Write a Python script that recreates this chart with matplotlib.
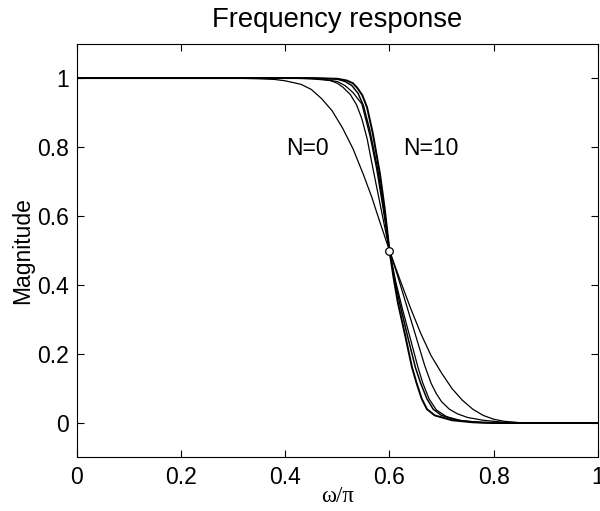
import matplotlib
matplotlib.use("Agg")
import matplotlib.pyplot as plt

# magnitude curves (w = omega/pi)
w_n0 = [0, 0.3, 0.35, 0.38, 0.4, 0.43, 0.45, 0.47, 0.49, 0.51, 0.53, 0.55, 0.566, 0.58, 0.6,
        0.62, 0.64, 0.66, 0.68, 0.7, 0.72, 0.74, 0.76, 0.78, 0.8, 0.82, 0.85, 0.9, 1.0]
m_n0 = [1, 1, 0.998, 0.996, 0.992, 0.982, 0.967, 0.94, 0.905, 0.855, 0.795, 0.72, 0.655,
        0.59, 0.5, 0.416, 0.335, 0.26, 0.195, 0.145, 0.1, 0.066, 0.04, 0.022, 0.011, 0.005,
        0.001, 0, 0]

w_b = [0, 0.4, 0.45, 0.486, 0.5, 0.511, 0.525, 0.537, 0.547, 0.557, 0.568, 0.58, 0.59, 0.6,
       0.615, 0.63, 0.649, 0.668, 0.68, 0.69, 0.7, 0.715, 0.73, 0.75, 0.78, 0.82, 0.87, 1.0]
m_b = [1, 1, 0.998, 0.993, 0.985, 0.973, 0.952, 0.922, 0.882, 0.825, 0.74, 0.65, 0.575, 0.5,
       0.43, 0.355, 0.26, 0.165, 0.115, 0.085, 0.062, 0.04, 0.027, 0.016, 0.008, 0.002, 0, 0]

w_c = [0, 0.42, 0.47, 0.5, 0.515, 0.53, 0.547, 0.563, 0.575, 0.588, 0.6, 0.612, 0.625, 0.64,
       0.655, 0.664, 0.676, 0.69, 0.71, 0.74, 0.78, 0.83, 1.0]
m_c = [1, 1, 0.997, 0.99, 0.978, 0.958, 0.925, 0.83, 0.74, 0.62, 0.5, 0.41, 0.33, 0.245,
       0.16, 0.116, 0.07, 0.038, 0.018, 0.006, 0.001, 0, 0]

w_d = [0, 0.45, 0.5, 0.515, 0.528, 0.54, 0.55, 0.562, 0.578, 0.59, 0.6, 0.61, 0.62, 0.635,
       0.65, 0.66, 0.672, 0.684, 0.7, 0.73, 0.77, 0.82, 1.0]
m_d = [1, 1, 0.997, 0.99, 0.978, 0.955, 0.92, 0.85, 0.73, 0.615, 0.5, 0.415, 0.345, 0.25,
       0.16, 0.115, 0.07, 0.04, 0.022, 0.008, 0.002, 0, 0]

w_n10 = [0, 0.45, 0.5, 0.518, 0.53, 0.539, 0.548, 0.557, 0.568, 0.582, 0.591, 0.6, 0.608,
         0.616, 0.63, 0.643, 0.652, 0.662, 0.672, 0.687, 0.72, 0.76, 0.8, 1.0]
m_n10 = [1, 1, 0.998, 0.993, 0.985, 0.97, 0.95, 0.915, 0.84, 0.72, 0.62, 0.5, 0.42,
         0.35, 0.255, 0.163, 0.116, 0.07, 0.04, 0.022, 0.008, 0.002, 0, 0]

curves = [(w_n0, m_n0), (w_b, m_b), (w_c, m_c), (w_d, m_d), (w_n10, m_n10)]
widths = [0.9, 0.9, 0.9, 1.1, 1.4]

xticks = [0, 0.2, 0.4, 0.6, 0.8, 1]
xticklabels = ["0", "0.2", "0.4", "0.6", "0.8", "1"]
yticks = [0, 0.2, 0.4, 0.6, 0.8, 1]
yticklabels = ["0", "0.2", "0.4", "0.6", "0.8", "1"]

plt.rcParams["font.family"] = ["Liberation Sans", "DejaVu Sans"]
plt.rcParams["font.size"] = 16.5

fig = plt.figure(figsize=(6.0, 5.11), dpi=100)
ax = fig.add_axes([0.1283, 0.1047, 0.868, 0.810])

for (w, m), lw in zip(curves, widths):
    ax.plot(w, m, color="black", lw=lw, solid_joinstyle="round")

ax.plot([0.6], [0.5], "o", ms=5.5, mfc="white", mec="black", mew=0.9)

ax.text(0.443, 0.795, "N=0", ha="center", va="center")
ax.text(0.68, 0.795, "N=10", ha="center", va="center")

ax.set_xlim(0, 1)
ax.set_ylim(-0.1, 1.1)
ax.set_xticks(xticks)
ax.set_xticklabels(xticklabels)
ax.set_yticks(yticks)
ax.set_yticklabels(yticklabels)
ax.tick_params(direction="in", length=5, width=0.8, top=True, right=True, pad=6)
for s in ax.spines.values():
    s.set_linewidth(0.8)

ax.set_title("Frequency response", pad=12)
ax.set_ylabel("Magnitude", labelpad=2)
ax.set_xlabel("\u03c9/\u03c0", family=["Liberation Serif", "DejaVu Serif"], labelpad=-2)

fig.savefig("out.png", dpi=100)
